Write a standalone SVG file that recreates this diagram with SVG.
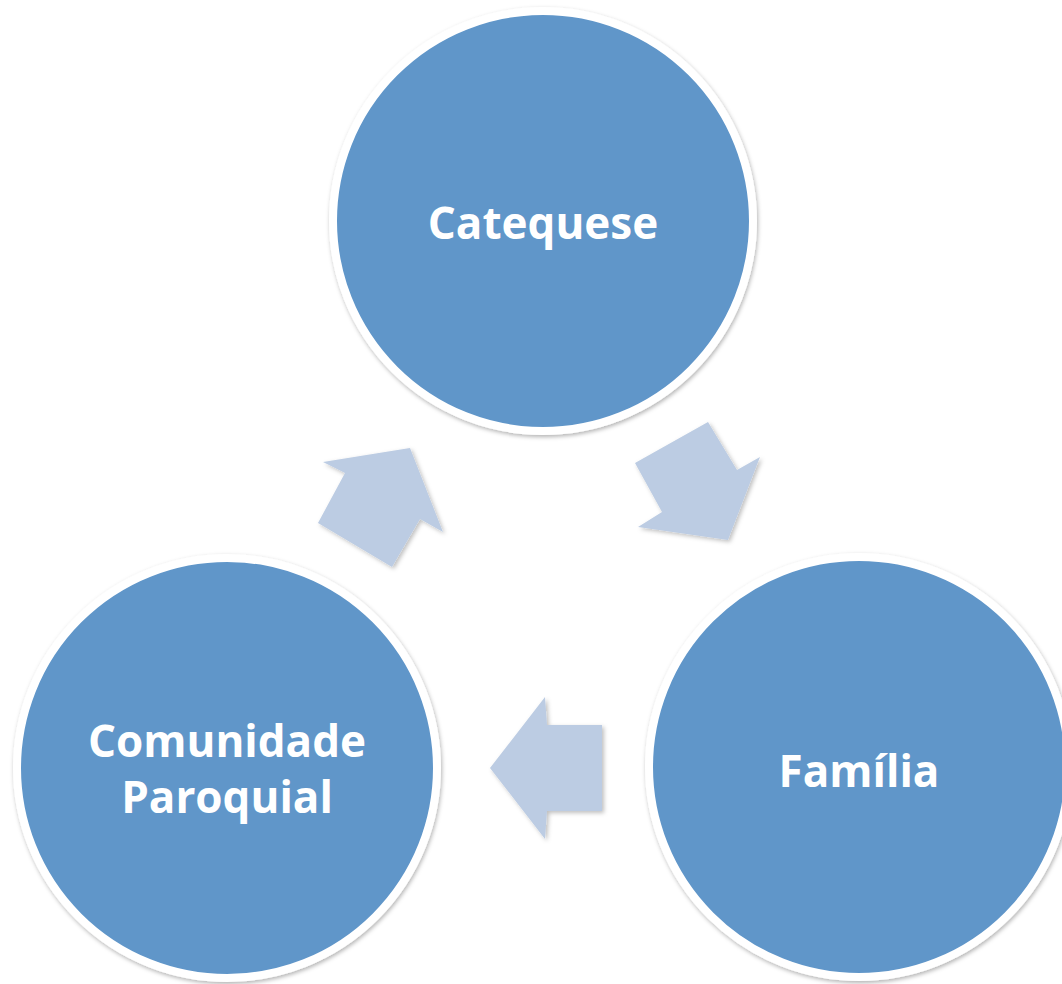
<svg xmlns="http://www.w3.org/2000/svg" width="1062" height="984" viewBox="0 0 1062 984">
<defs>
<filter id="sh" x="-10%" y="-10%" width="120%" height="120%">
<feDropShadow dx="1" dy="2" stdDeviation="2" flood-color="#000" flood-opacity="0.3"/>
</filter>
<filter id="ash" x="-20%" y="-20%" width="140%" height="140%">
<feDropShadow dx="2" dy="2" stdDeviation="2" flood-color="#000" flood-opacity="0.25"/>
</filter>
</defs>
<style>
.node{fill:#6096C9;stroke:#FFFFFF;stroke-width:8;filter:url(#sh)}
.lbl{font-family:"Open Sans","Noto Sans","Liberation Sans",sans-serif;font-weight:bold;font-size:44px;fill:#FFFFFF;text-anchor:middle}
.arr{fill:#BCCCE3;filter:url(#ash)}
</style>
<rect width="1062" height="984" fill="#FFFFFF"/>
<g id="connectors">
<polygon class="arr" points="410,448 323,462 345,473 318,523 392,567 420,519 443,532"/>
<polygon class="arr" points="708,422 737,470 760,457 728,540 638,527 662,512 635,463"/>
<polygon class="arr" points="490,768 545,697 547,725 602,725 602,811 547,811 545,839"/>
</g>
<g id="node-catequese">
<circle class="node" cx="543" cy="221" r="210"/>
<text class="lbl" x="543" y="239">Catequese</text>
</g>
<g id="node-comunidade">
<circle class="node" cx="227" cy="768" r="210"/>
<text class="lbl" x="227" y="757">Comunidade</text>
<text class="lbl" x="227" y="813">Paroquial</text>
</g>
<g id="node-familia">
<circle class="node" cx="859" cy="767" r="210"/>
<text class="lbl" x="859" y="787">Família</text>
</g>
</svg>
